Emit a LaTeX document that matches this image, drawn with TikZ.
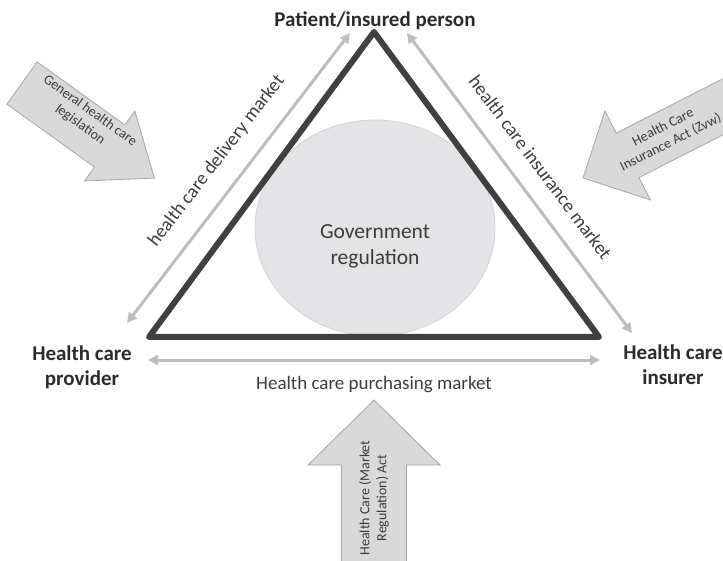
\documentclass[tikz,border=0pt]{standalone}
\usepackage{fontspec}
\setmainfont{Carlito}
\usetikzlibrary{arrows.meta,calc,shapes.geometric}

\definecolor{triline}{HTML}{404040}
\definecolor{linkgray}{HTML}{BEBEBE}
\definecolor{arrfill}{HTML}{D9D9D9}
\definecolor{arredge}{HTML}{A8A8A8}
\definecolor{ellfill}{HTML}{E4E4E6}
\definecolor{elledge}{HTML}{D4D4D6}
\definecolor{boldink}{HTML}{2B2B2B}
\definecolor{ink}{HTML}{3C3C3C}

\tikzset{
  party/.style={font=\fontsize{21}{25}\selectfont\bfseries, text=boldink, align=center, inner sep=0pt},
  marketlbl/.style={font=\fontsize{19}{23}\selectfont, text=ink, inner sep=0pt},
  govtext/.style={font=\fontsize{21.5}{26}\selectfont, text=ink, align=center, inner sep=0pt},
  linkarrow/.style={draw=linkgray, line width=3pt,
    {Triangle[length=10pt,width=10pt]}-{Triangle[length=10pt,width=10pt]}},
  blockarrow/.style={fill=arrfill, draw=arredge, line width=0.8pt},
  arrowtext/.style={font=\fontsize{14}{17}\selectfont, text=ink, align=center, inner sep=0pt},
}

% Block arrow: tail point, angle, length, shaft half-width, head half-width, head length
\newcommand{\fatarrow}[6]{%
  \path[blockarrow, shift={#1}, rotate=#2]
    (0,-#4) -- ({#3-#6},-#4) -- ({#3-#6},-#5) -- (#3,0)
    -- ({#3-#6},#5) -- ({#3-#6},#4) -- (0,#4) -- cycle;}

\begin{document}
\begin{tikzpicture}[x=1pt,y=-1pt]
\useasboundingbox (0,0) rectangle (723,561);

% government regulation in the middle
\node[draw=elledge, fill=ellfill, line width=0.8pt, ellipse, minimum width=240pt,
      minimum height=216pt, inner sep=0pt] (gov) at (375,228) {};
\node[govtext] (govlbl) at (375,246) {Government\\regulation};

% the triangle of actors
\coordinate (apex) at (374,32);
\coordinate (left) at (149,337);
\coordinate (right) at (599,337);
\draw[triline, line width=6pt, line join=round] (apex) -- (right) -- (left) -- cycle;

% market connectors
\coordinate (dtop) at (350,33);
\coordinate (dbot) at (127,323);
\coordinate (itop) at (407,33);
\coordinate (ibot) at (632,333);
\coordinate (pleft) at (148,360);
\coordinate (pright) at (600,360);
\draw[linkarrow] (dbot) -- node[marketlbl, sloped, above=18pt, midway] (delivery) {health care delivery market} (dtop);
\draw[linkarrow] (itop) -- node[marketlbl, sloped, above=18pt, midway] (insurance) {health care insurance market} (ibot);
\draw[linkarrow] (pleft) -- (pright);
\node[marketlbl, anchor=base] (purchasing) at (374,389) {Health care purchasing market};

% actors
\node[party, anchor=base] (patient) at (375,27) {Patient/insured person};
\node[party] (provider) at (82,367) {Health care\\provider};
\node[party] (insurer) at (673,365) {Health care\\insurer};

% legislation arrows
\fatarrow{(22,83)}{-35.7}{163}{26}{43}{55}
\node[arrowtext, rotate=-35.7] (general) at (85,118) {General health care\\legislation};

\fatarrow{(739,98.6)}{207}{175}{25}{50}{50}
\node[arrowtext, rotate=27] (zvw) at (667,135) {Health Care\\Insurance Act (Zvw)};

\fatarrow{(374,580)}{90}{180}{32.5}{66}{65}
\node[arrowtext, rotate=90] (wmg) at (374,498) {Health Care (Market\\Regulation) Act};
\end{tikzpicture}
\end{document}
